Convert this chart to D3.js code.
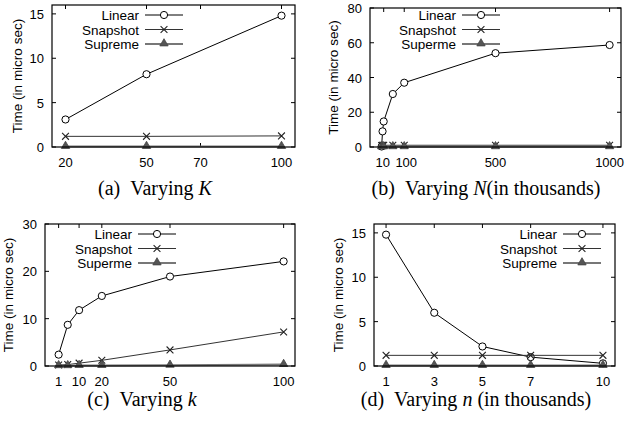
<!DOCTYPE html>
<html>
<head>
<meta charset="utf-8">
<script src="https://cdn.jsdelivr.net/npm/d3@7"></script>
<style>
  body { margin: 0; background: #fff; }
  svg { display: block; }
  .tick-label { font-family: "Liberation Sans", Arial, sans-serif; font-size: 13px; fill: #000; }
  .legend-label { font-family: "Liberation Sans", Arial, sans-serif; font-size: 13.5px; fill: #000; }
  .axis-title { font-family: "Liberation Sans", Arial, sans-serif; font-size: 13.5px; fill: #000; }
  .caption { font-family: "Liberation Serif", "Times New Roman", serif; font-size: 20px; fill: #000; }
</style>
</head>
<body>
<div id="chart-area"></div>
<script>

// Legend names (panels b and c spell it "Superme" in the original)
var namesA = ["Linear", "Snapshot", "Supreme"];
var namesB = ["Linear", "Snapshot", "Superme"];

// (a) Varying K
var kA = [20, 50, 100];
var linearA = [3.1, 8.2, 14.8];
var snapshotA = [1.2, 1.2, 1.25];
var supremeA = [0.05, 0.05, 0.05];
var xTicksA = [20, 50, 70, 100];
var yTicksA = [0, 5, 10, 15];

// (b) Varying N (in thousands)
var nB = [1, 5, 10, 50, 100, 500, 1000];
var linearB = [0.3, 9.0, 14.7, 30.5, 37.0, 54.0, 58.7];
var snapshotB = [0.8, 1.0, 1.0, 1.0, 1.0, 1.0, 1.0];
var supremeB = [0.1, 0.1, 0.1, 0.1, 0.1, 0.1, 0.1];
var xTicksB = [10, 100, 500, 1000];
var yTicksB = [0, 20, 40, 60, 80];

// (c) Varying k
var kC = [1, 5, 10, 20, 50, 100];
var linearC = [2.4, 8.7, 11.8, 14.8, 18.9, 22.1];
var snapshotC = [0.2, 0.3, 0.6, 1.2, 3.4, 7.2];
var supremeC = [0.05, 0.05, 0.1, 0.1, 0.15, 0.3];
var xTicksC = [1, 10, 20, 50, 100];
var yTicksC = [0, 10, 20, 30];

// (d) Varying n (in thousands)
var nD = [1, 3, 5, 7, 10];
var linearD = [14.8, 6.0, 2.2, 1.0, 0.3];
var snapshotD = [1.2, 1.2, 1.2, 1.2, 1.2];
var supremeD = [0.05, 0.05, 0.05, 0.05, 0.05];
var xTicksD = [1, 3, 5, 7, 10];
var yTicksD = [0, 5, 10, 15];

var svg = d3.select("#chart-area").append("svg")
    .attr("width", 634)
    .attr("height", 423);

// line styles for the three series
var styles = [
    { stroke: "#000", width: 1, marker: "circle" },
    { stroke: "#333", width: 1, marker: "cross" },
    { stroke: "#777", width: 2, marker: "triangle" }
];

function drawMarker(g, type, cx, cy) {
    if (type == "circle") {
        g.append("circle")
            .attr("cx", cx).attr("cy", cy).attr("r", 3.6)
            .attr("fill", "#fff").attr("stroke", "#000").attr("stroke-width", 1);
    } else if (type == "cross") {
        var s = 3.4;
        g.append("path")
            .attr("d", "M" + (cx - s) + "," + (cy - s) + "L" + (cx + s) + "," + (cy + s) +
                       "M" + (cx - s) + "," + (cy + s) + "L" + (cx + s) + "," + (cy - s))
            .attr("stroke", "#222").attr("stroke-width", 1.1).attr("fill", "none");
    } else {
        var t = d3.symbol().type(d3.symbolTriangle).size(30);
        g.append("path")
            .attr("d", t())
            .attr("transform", "translate(" + cx + "," + (cy - 0.5) + ")")
            .attr("fill", "#555").attr("stroke", "#444").attr("stroke-width", 0.8);
    }
}

function drawPanel(p) {
    var g = svg.append("g");

    var x = d3.scaleLinear().domain(p.xDomain).range([p.left, p.right]);
    var y = d3.scaleLinear().domain(p.yDomain).range([p.bottom, p.top]);

    // inward ticks on all four sides
    var tl = 4;
    p.xTicks.forEach(function(v) {
        g.append("line").attr("x1", x(v)).attr("x2", x(v))
            .attr("y1", p.bottom).attr("y2", p.bottom - tl).attr("stroke", "#000");
        g.append("line").attr("x1", x(v)).attr("x2", x(v))
            .attr("y1", p.top).attr("y2", p.top + tl).attr("stroke", "#000");
        g.append("text").attr("class", "tick-label")
            .attr("x", x(v) + (p.xShift && p.xShift[v] || 0)).attr("y", p.bottom + 20)
            .attr("text-anchor", "middle").text(v);
    });
    p.yTicks.forEach(function(v) {
        g.append("line").attr("x1", p.left).attr("x2", p.left + tl)
            .attr("y1", y(v)).attr("y2", y(v)).attr("stroke", "#000");
        g.append("line").attr("x1", p.right).attr("x2", p.right - tl)
            .attr("y1", y(v)).attr("y2", y(v)).attr("stroke", "#000");
        g.append("text").attr("class", "tick-label")
            .attr("x", p.left - 8).attr("y", y(v) + 5)
            .attr("text-anchor", "end").text(v);
    });

    // series
    p.series.forEach(function(vals, i) {
        var st = styles[i];
        var pts = p.xs.map(function(d, j) { return [x(d), y(vals[j])]; });
        g.append("path")
            .attr("d", d3.line()(pts))
            .attr("fill", "none")
            .attr("stroke", st.stroke)
            .attr("stroke-width", st.width);
        pts.forEach(function(pt) { drawMarker(g, st.marker, pt[0], pt[1]); });
    });

    // frame
    g.append("rect")
        .attr("x", p.left).attr("y", p.top)
        .attr("width", p.right - p.left).attr("height", p.bottom - p.top)
        .attr("fill", "none").attr("stroke", "#000").attr("stroke-width", 1.2);

    // legend
    p.names.forEach(function(name, i) {
        var st = styles[i];
        var ly = p.legendY + i * 14.5;
        g.append("text").attr("class", "legend-label")
            .attr("x", p.legendX).attr("y", ly + 5)
            .attr("text-anchor", "end").text(name);
        g.append("line")
            .attr("x1", p.legendX + 6).attr("x2", p.legendX + 44)
            .attr("y1", ly).attr("y2", ly)
            .attr("stroke", st.stroke).attr("stroke-width", st.width);
        drawMarker(g, st.marker, p.legendX + 25, ly);
    });

    // y axis title
    g.append("text").attr("class", "axis-title")
        .attr("transform", "translate(" + p.titleX + "," + ((p.top + p.bottom) / 2) + ") rotate(-90)")
        .attr("text-anchor", "middle")
        .text("Time (in micro sec)");

    // caption
    var cap = g.append("text").attr("class", "caption")
        .attr("x", p.capX).attr("y", p.capY)
        .attr("text-anchor", "middle");
    cap.append("tspan").text(p.caption[0]);
    cap.append("tspan").attr("dx", 10).text("Varying ");
    cap.append("tspan").attr("font-style", "italic").text(p.caption[1]);
    if (p.caption[2]) cap.append("tspan").text(p.caption[2]);
}

drawPanel({
    left: 52, right: 295, top: 5, bottom: 147,
    xDomain: [15, 105], yDomain: [0, 16],
    xTicks: xTicksA, yTicks: yTicksA,
    xs: kA, series: [linearA, snapshotA, supremeA], names: namesA,
    legendX: 139, legendY: 15, titleX: 22,
    capX: 155, capY: 195, caption: ["(a)", "K"]
});

drawPanel({
    left: 370, right: 621, top: 8, bottom: 147,
    xDomain: [-50, 1050], yDomain: [0, 80],
    xTicks: xTicksB, yTicks: yTicksB, xShift: { 10: -1, 100: 2 },
    xs: nB, series: [linearB, snapshotB, supremeB], names: namesB,
    legendX: 456, legendY: 15, titleX: 338,
    capX: 486, capY: 195, caption: ["(b)", "N", "(in thousands)"]
});

drawPanel({
    left: 45, right: 295, top: 224, bottom: 366,
    xDomain: [-5, 105], yDomain: [0, 30],
    xTicks: xTicksC, yTicks: yTicksC,
    xs: kC, series: [linearC, snapshotC, supremeC], names: namesB,
    legendX: 132, legendY: 234, titleX: 13,
    capX: 142, capY: 406, caption: ["(c)", "k"]
});

drawPanel({
    left: 374, right: 615, top: 224, bottom: 366,
    xDomain: [0.5, 10.5], yDomain: [0, 16],
    xTicks: xTicksD, yTicks: yTicksD,
    xs: nD, series: [linearD, snapshotD, supremeD], names: namesA,
    legendX: 557, legendY: 234, titleX: 343,
    capX: 476, capY: 406, caption: ["(d)", "n", " (in thousands)"]
});

</script>
</body>
</html>
